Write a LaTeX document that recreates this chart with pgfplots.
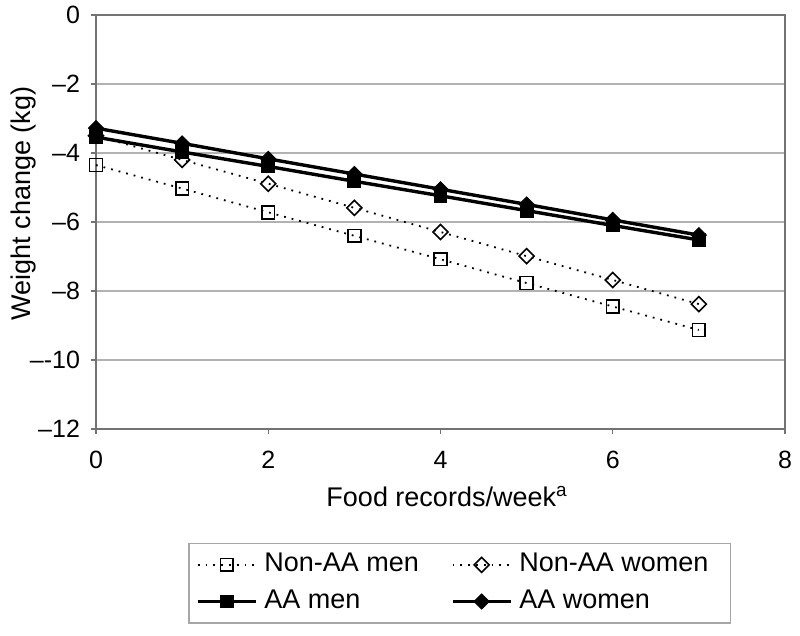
\documentclass[border=0pt]{standalone}
\usepackage{fontspec}
\setmainfont{Liberation Sans}
\usepackage{pgfplots}
\pgfplotsset{compat=1.18}
\begin{document}
\begin{tikzpicture}
\begin{axis}[
  at={(0pt,0pt)}, anchor=south west,
  scale only axis, width=344.5pt, height=207pt,
  xmin=0, xmax=8, ymin=-12, ymax=0,
  xtick={0,2,4,6,8}, ytick={-12,-10,-8,-6,-4,-2,0},
  yticklabels={–12,–{}-10,–8,–6,–4,–2,0},
  /pgf/number format/assume math mode=true,
  tick label style={font=\fontsize{12.5}{14}\selectfont},
  tick align=outside, major tick length=2.5pt,
  xtick pos=bottom, ytick pos=left,
  tick style={gray!90!black, line width=0.6pt},
  axis line style={gray!90!black, line width=0.7pt},
  ymajorgrids, grid style={gray!60, line width=0.7pt},
  xticklabel style={yshift=-5pt},
  yticklabel style={xshift=-2pt},
  xlabel={Food records/week\textsuperscript{a}},
  ylabel={Weight change (kg)},
  label style={font=\fontsize{13.5}{16}\selectfont},
  xlabel style={at={(axis description cs:0.5095,-0.1638)}, anchor=center},
  ylabel style={at={(axis description cs:-0.1045,0.5447)}, anchor=center, rotate=0},
  legend columns=2,
  legend cell align=left,
  legend image code/.code={\draw[mark repeat=2,mark phase=2,#1] plot coordinates {(0pt,0pt) (14.5pt,0pt) (29pt,0pt)};},
  legend style={at={(axis description cs:0.134,-0.2744)}, anchor=north west,
    draw=gray!70, line width=0.7pt,
    font=\fontsize{13.5}{16}\selectfont,
    inner xsep=3.5pt, inner ysep=4.5pt, row sep=5.7pt,
    nodes={inner xsep=0pt, inner ysep=0pt, text height=9.8pt, text depth=2.8pt},
    /tikz/every odd column/.append style={column sep=3.5pt},
    /tikz/every even column/.append style={column sep=16pt}},
]
\addplot[black, line width=0.9pt, dash pattern=on 0.9pt off 3pt,
  mark=square, mark size=3.2pt, mark options={solid, line width=0.8pt, fill=white}]
  coordinates {(0,-4.35) (1,-5.03) (2,-5.72) (3,-6.40) (4,-7.08) (5,-7.77) (6,-8.45) (7,-9.13)};
\addlegendentry{Non-AA men}
\addplot[black, line width=0.9pt, dash pattern=on 0.9pt off 3pt,
  mark=square, mark size=2.65pt, mark options={solid, rotate=45, line width=0.8pt, fill=white}]
  coordinates {(0,-3.50) (1,-4.20) (2,-4.89) (3,-5.59) (4,-6.29) (5,-6.99) (6,-7.68) (7,-8.38)};
\addlegendentry{Non-AA women\hspace*{7.5pt}}
\addplot[black, line width=1.7pt,
  mark=square*, mark size=3.2pt, mark options={solid, line width=0.5pt}]
  coordinates {(0,-3.54) (1,-3.97) (2,-4.39) (3,-4.82) (4,-5.24) (5,-5.67) (6,-6.10) (7,-6.52)};
\addlegendentry{AA men}
\addplot[black, line width=1.7pt,
  mark=square*, mark size=2.65pt, mark options={solid, rotate=45, line width=0.5pt}]
  coordinates {(0,-3.28) (1,-3.72) (2,-4.17) (3,-4.61) (4,-5.05) (5,-5.49) (6,-5.94) (7,-6.38)};
\addlegendentry{AA women}
\end{axis}
\pgfresetboundingbox
\path[use as bounding box] (-48pt,-103.5pt) rectangle (352pt,214.5pt);
\end{tikzpicture}
\end{document}
